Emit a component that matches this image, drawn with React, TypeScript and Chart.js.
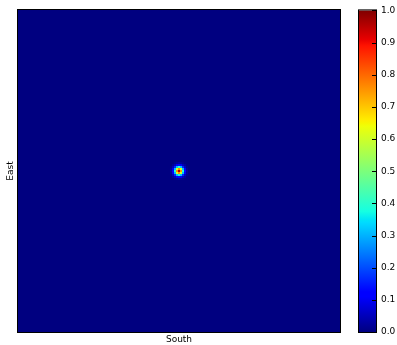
import React, { useEffect, useRef } from 'react';
import { Chart, registerables } from 'chart.js';

Chart.register(...registerables);

// ---------- data ----------
const GRID_SIZE = 161; // cells per side of the field
const SPOT_ORIGIN_COL = 76; // first column of the non-zero patch
const SPOT_ORIGIN_ROW = 76; // first row of the non-zero patch
const SPOT_PATCH: number[][] = [
  [0.0, 0.0, 0.01, 0.02, 0.03, 0.02, 0.01, 0.0, 0.0],
  [0.0, 0.02, 0.05, 0.1, 0.13, 0.1, 0.05, 0.02, 0.0],
  [0.01, 0.05, 0.16, 0.31, 0.39, 0.31, 0.16, 0.05, 0.01],
  [0.02, 0.1, 0.31, 0.61, 0.76, 0.61, 0.31, 0.1, 0.02],
  [0.03, 0.13, 0.39, 0.76, 0.95, 0.76, 0.39, 0.13, 0.03],
  [0.02, 0.1, 0.31, 0.61, 0.76, 0.61, 0.31, 0.1, 0.02],
  [0.01, 0.05, 0.16, 0.31, 0.39, 0.31, 0.16, 0.05, 0.01],
  [0.0, 0.02, 0.05, 0.1, 0.13, 0.1, 0.05, 0.02, 0.0],
  [0.0, 0.0, 0.01, 0.02, 0.03, 0.02, 0.01, 0.0, 0.0],
];
const COLORBAR_MIN = 0;
const COLORBAR_MAX = 1;
const COLORBAR_TICKS = [0.0, 0.1, 0.2, 0.3, 0.4, 0.5, 0.6, 0.7, 0.8, 0.9, 1.0];
const X_LABEL = 'South';
const Y_LABEL = 'East';

// jet colormap segment data (matplotlib)
const JET_R: number[][] = [[0, 0], [0.35, 0], [0.66, 1], [0.89, 1], [1, 0.5]];
const JET_G: number[][] = [[0, 0], [0.125, 0], [0.375, 1], [0.64, 1], [0.91, 0], [1, 0]];
const JET_B: number[][] = [[0, 0.5], [0.11, 1], [0.34, 1], [0.65, 0], [1, 0]];
const JET_STOPS = [0, 0.11, 0.125, 0.34, 0.35, 0.375, 0.64, 0.65, 0.66, 0.89, 0.91, 1];

const FONT = 'DejaVu Sans';

function seg(s: number[][], v: number): number {
  if (v <= s[0][0]) return s[0][1];
  for (let i = 1; i < s.length; i++) {
    if (v <= s[i][0]) {
      const t = (v - s[i - 1][0]) / (s[i][0] - s[i - 1][0]);
      return s[i - 1][1] + t * (s[i][1] - s[i - 1][1]);
    }
  }
  return s[s.length - 1][1];
}
function jet(v: number): string {
  const x = Math.max(0, Math.min(1, v));
  const r = Math.round(seg(JET_R, x) * 255);
  const g = Math.round(seg(JET_G, x) * 255);
  const b = Math.round(seg(JET_B, x) * 255);
  return `rgb(${r},${g},${b})`;
}

function cellValue(col: number, row: number): number {
  const pr = row - SPOT_ORIGIN_ROW;
  const pc = col - SPOT_ORIGIN_COL;
  if (pr >= 0 && pr < SPOT_PATCH.length && pc >= 0 && pc < SPOT_PATCH[pr].length) {
    return SPOT_PATCH[pr][pc];
  }
  return 0;
}

const framePlugin = {
  id: 'frame',
  afterDraw(chart: any) {
    const { ctx, chartArea } = chart;
    const { left, top, right, bottom } = chartArea;
    ctx.save();
    ctx.strokeStyle = '#000';
    ctx.lineWidth = 1;
    ctx.strokeRect(left - 0.5, top - 0.5, right - left + 1, bottom - top + 1);
    ctx.restore();
  },
};

const colorbarTicksPlugin = {
  id: 'cbticks',
  afterDraw(chart: any) {
    const { ctx, chartArea } = chart;
    const y = chart.scales.y;
    ctx.save();
    ctx.strokeStyle = '#000';
    ctx.lineWidth = 1;
    COLORBAR_TICKS.forEach((t) => {
      const py = Math.round(y.getPixelForValue(t)) + 0.5;
      ctx.beginPath();
      ctx.moveTo(chartArea.right - 4, py);
      ctx.lineTo(chartArea.right, py);
      ctx.stroke();
    });
    ctx.restore();
  },
};

export default function App() {
  const mainRef = useRef<HTMLCanvasElement | null>(null);
  const cbRef = useRef<HTMLCanvasElement | null>(null);

  useEffect(() => {
    Chart.defaults.font.family = FONT;
    const cells: { x: number; y: number; v: number }[] = [];
    for (let row = 0; row < GRID_SIZE; row++) {
      for (let col = 0; col < GRID_SIZE; col++) {
        cells.push({ x: col + 0.5, y: row + 0.5, v: cellValue(col, row) });
      }
    }
    const cellRadius = (ctx: any) => {
      const s = ctx.chart.scales.x;
      if (!s) return 1;
      const w = Math.abs(s.getPixelForValue(1) - s.getPixelForValue(0));
      if (!isFinite(w) || w <= 0) return 1;
      return (w / Math.SQRT2) * 1.01;
    };

    const main = new Chart(mainRef.current as HTMLCanvasElement, {
      type: 'scatter',
      data: {
        datasets: [
          {
            data: cells as any,
            pointStyle: 'rect',
            borderWidth: 0,
            radius: cellRadius,
            backgroundColor: (ctx: any) => jet(ctx.raw ? ctx.raw.v : 0),
          } as any,
        ],
      },
      options: {
        animation: false,
        responsive: false,
        events: [],
        layout: { padding: { left: 2, top: 10, right: 10, bottom: 0 } },
        plugins: { legend: { display: false }, tooltip: { enabled: false } },
        scales: {
          x: {
            type: 'linear',
            min: 0,
            max: GRID_SIZE,
            grid: { display: false, drawTicks: false },
            border: { display: false },
            ticks: { display: false },
            title: {
              display: true,
              text: X_LABEL,
              color: '#000',
              font: { size: 9, family: FONT },
              padding: { top: 2, bottom: 0 },
            },
            afterFit: (s: any) => {
              s.height = 13;
            },
          },
          y: {
            type: 'linear',
            min: 0,
            max: GRID_SIZE,
            grid: { display: false, drawTicks: false },
            border: { display: false },
            ticks: { display: false },
            title: {
              display: true,
              text: Y_LABEL,
              color: '#000',
              font: { size: 9, family: FONT },
              padding: { top: 3.6, bottom: 0 },
            },
            afterFit: (s: any) => {
              s.width = 16;
            },
          },
        },
      } as any,
      plugins: [framePlugin],
    });

    const cb = new Chart(cbRef.current as HTMLCanvasElement, {
      type: 'bar',
      data: {
        labels: ['colorbar'],
        datasets: [
          {
            data: [[COLORBAR_MIN, COLORBAR_MAX]] as any,
            barPercentage: 1,
            categoryPercentage: 1,
            borderWidth: 0,
            backgroundColor: (ctx: any) => {
              const y = ctx.chart.scales.y;
              if (!y) return jet(0);
              const y0 = y.getPixelForValue(COLORBAR_MIN);
              const y1 = y.getPixelForValue(COLORBAR_MAX);
              if (!isFinite(y0) || !isFinite(y1) || y0 === y1) return jet(0);
              const g = ctx.chart.ctx.createLinearGradient(0, y0, 0, y1);
              JET_STOPS.forEach((s) => g.addColorStop(s, jet(COLORBAR_MIN + s * (COLORBAR_MAX - COLORBAR_MIN))));
              return g;
            },
          } as any,
        ],
      },
      options: {
        animation: false,
        responsive: false,
        events: [],
        layout: { padding: { left: 19, top: 10, right: 0, bottom: 13 } },
        plugins: { legend: { display: false }, tooltip: { enabled: false } },
        scales: {
          x: { display: false },
          y: {
            position: 'right',
            min: COLORBAR_MIN,
            max: COLORBAR_MAX,
            grid: { display: false, drawTicks: false },
            border: { display: false },
            afterBuildTicks: (s: any) => {
              s.ticks = COLORBAR_TICKS.map((v) => ({ value: v }));
            },
            ticks: {
              color: '#000',
              padding: 5,
              font: { size: 9, family: FONT },
              callback: (v: any) => Number(v).toFixed(1),
            },
            afterFit: (s: any) => {
              s.width = 21;
            },
          },
        },
      } as any,
      plugins: [framePlugin, colorbarTicksPlugin],
    });

    return () => {
      main.destroy();
      cb.destroy();
    };
  }, []);

  return (
    <div style={{ position: 'fixed', left: 0, top: 0, width: 397, height: 345, background: '#fff' }}>
      <canvas ref={mainRef} width={350} height={345} style={{ position: 'absolute', left: 0, top: 0, width: 350, height: 345 }} />
      <canvas ref={cbRef} width={57} height={345} style={{ position: 'absolute', left: 340, top: 0, width: 57, height: 345 }} />
    </div>
  );
}
